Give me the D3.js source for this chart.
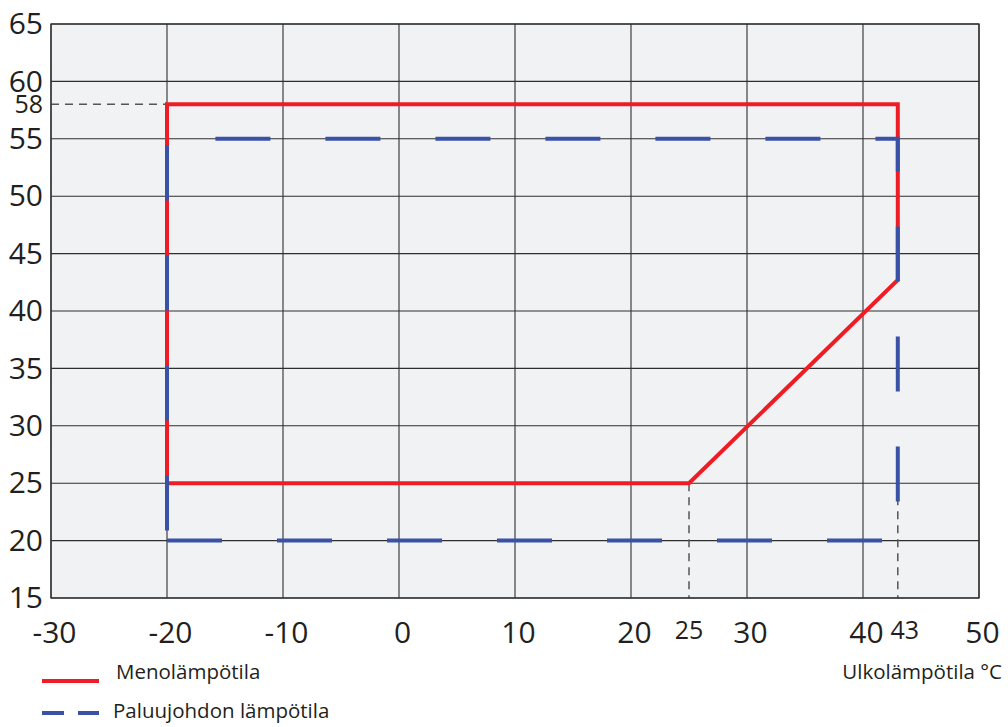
<!DOCTYPE html>
<html>
<head>
<meta charset="utf-8">
<script src="https://cdn.jsdelivr.net/npm/d3@7"></script>
<style>
  html, body { margin: 0; padding: 0; background: #ffffff; }
  svg { display: block; font-family: "Open Sans", "Noto Sans", sans-serif; }
</style>
</head>
<body>
<svg id="chart" width="1008" height="727"></svg>
<script>
// Outdoor temperature (°C) vs. water temperature (°C) operating envelope
const xTicks = [-30, -20, -10, 0, 10, 20, 30, 40, 50];
const yTicks = [15, 20, 25, 30, 35, 40, 45, 50, 55, 60, 65];

// Supply temperature envelope (Menolämpötila)
const supplyX = [-20, -20, 43, 43, 25, -20];
const supplyY = [25, 58, 58, 42.7, 25, 25];

// Return line envelope (Paluujohdon lämpötila)
const returnX = [-20, 43, 43, -20, -20];
const returnY = [20, 20, 55, 55, 20];

// Marked reference values
const markY = 58;
const markX = [25, 43];

const legendLabels = ["Menolämpötila", "Paluujohdon lämpötila"];
const xTitle = "Ulkolämpötila °C";

const svg = d3.select("#chart");
const x = d3.scaleLinear().domain([-30, 50]).range([51, 979]);
const y = d3.scaleLinear().domain([15, 65]).range([598, 24]);

const red = "#ee1d25";
const blue = "#3a52a6";
const ink = "#231f20";

// Plot background
svg.append("rect")
  .attr("x", x(-30)).attr("y", y(65))
  .attr("width", x(50) - x(-30)).attr("height", y(15) - y(65))
  .attr("fill", "#f1f2f4");

// Grid
const grid = svg.append("g").attr("stroke", "#2e2e2e").attr("stroke-width", 1.1);
grid.selectAll("line.v").data(xTicks).join("line")
  .attr("x1", d => x(d)).attr("x2", d => x(d))
  .attr("y1", y(65)).attr("y2", y(15));
grid.selectAll("line.h").data(yTicks).join("line")
  .attr("x1", x(-30)).attr("x2", x(50))
  .attr("y1", d => y(d)).attr("y2", d => y(d));

// Reference dashed guides
const guides = svg.append("g").attr("stroke", "#555").attr("stroke-width", 1.5)
  .attr("stroke-dasharray", "8,6").attr("fill", "none");
guides.append("line")
  .attr("x1", x(-30)).attr("x2", x(-20))
  .attr("y1", y(markY)).attr("y2", y(markY));
guides.selectAll("line.mx").data(markX).join("line")
  .attr("x1", d => x(d)).attr("x2", d => x(d))
  .attr("y1", y(25)).attr("y2", y(15));

// Axis tick labels
const yAxis = d3.axisLeft(y).tickValues(yTicks).tickSize(0).tickPadding(8)
  .tickFormat(d => String(d));
const gy = svg.append("g").attr("transform", `translate(${x(-30)},0)`).call(yAxis);
gy.select(".domain").remove();
gy.selectAll("text").attr("font-size", 30).attr("fill", ink)
  .attr("font-family", "Open Sans, sans-serif");

const xAxis = d3.axisBottom(x).tickValues(xTicks).tickSize(0).tickPadding(0)
  .tickFormat(d => String(d));
const gx = svg.append("g").attr("transform", `translate(0,${y(15)})`).call(xAxis);
gx.select(".domain").remove();
gx.selectAll("text").attr("font-size", 30).attr("fill", ink)
  .attr("font-family", "Open Sans, sans-serif")
  .attr("dy", null).attr("y", 45).attr("dx", 3);

// Extra labels for marked values
svg.append("text")
  .attr("x", x(-30) - 8).attr("y", y(markY) + 9)
  .attr("text-anchor", "end").attr("font-size", 25).attr("fill", ink)
  .text(markY);
svg.selectAll("text.mx").data(markX).join("text")
  .attr("class", "mx")
  .attr("x", (d, i) => x(d) + (i === 0 ? 0 : 7)).attr("y", 639)
  .attr("text-anchor", "middle").attr("font-size", 25).attr("fill", ink)
  .text(d => d);

// Plot frame
svg.append("rect")
  .attr("x", x(-30)).attr("y", y(65))
  .attr("width", x(50) - x(-30)).attr("height", y(15) - y(65))
  .attr("fill", "none").attr("stroke", "#2e2e2e").attr("stroke-width", 1.3);

const line = d3.line().x(d => x(d[0])).y(d => y(d[1]));

// Supply envelope
svg.append("path")
  .datum(d3.zip(supplyX, supplyY))
  .attr("d", line)
  .attr("fill", "none").attr("stroke", red).attr("stroke-width", 4)
  .attr("stroke-linejoin", "miter");

// Return envelope (dashed, drawn on top)
svg.append("path")
  .datum(d3.zip(returnX, returnY))
  .attr("d", line)
  .attr("fill", "none").attr("stroke", blue).attr("stroke-width", 4)
  .attr("stroke-dasharray", "55,55");

// Legend
const legend = svg.append("g");
legend.append("line")
  .attr("x1", 42).attr("x2", 99).attr("y1", 681).attr("y2", 681)
  .attr("stroke", red).attr("stroke-width", 4);
legend.append("line")
  .attr("x1", 42).attr("x2", 99).attr("y1", 713).attr("y2", 713)
  .attr("stroke", blue).attr("stroke-width", 4).attr("stroke-dasharray", "22,14");
legend.selectAll("text").data(legendLabels).join("text")
  .attr("x", (d, i) => i === 0 ? 116 : 113)
  .attr("y", (d, i) => i === 0 ? 679 : 718)
  .attr("font-size", 20.5).attr("fill", ink)
  .text(d => d);

// Axis title
svg.append("text")
  .attr("x", 1002).attr("y", 679)
  .attr("text-anchor", "end").attr("font-size", 20.5).attr("fill", ink)
  .text(xTitle);
</script>
</body>
</html>
